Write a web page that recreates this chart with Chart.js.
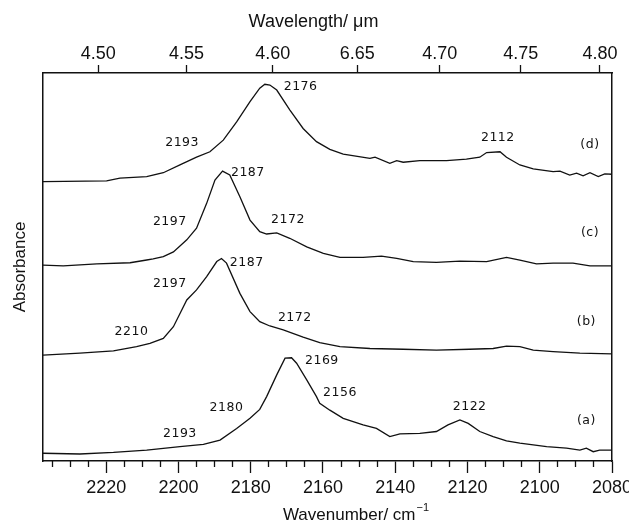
<!DOCTYPE html>
<html>
<head>
<meta charset="utf-8">
<script src="https://cdn.jsdelivr.net/npm/chart.js@4.4.0/dist/chart.umd.min.js"></script>
<style>
  body { margin: 0; background: #fff; }
</style>
</head>
<body>
<canvas id="spectra" width="629" height="523"></canvas>
<script>
// IR spectra, wavenumber (cm-1) vs absorbance (arb. units, traces offset)
const wnA = [2237.5, 2227.3, 2218.0, 2208.8, 2199.6, 2193.1, 2188.5, 2183.9, 2180.2, 2177.5, 2175.6, 2172.8, 2170.5, 2168.7, 2167.3, 2164.5, 2161.8, 2160.9, 2158.1, 2154.4, 2148.9, 2145.2, 2141.5, 2138.7, 2133.2, 2128.6, 2125.4, 2122.1, 2119.8, 2116.6, 2112.9, 2109.2, 2105.5, 2098.1, 2092.6, 2088.9, 2087.1, 2085.2, 2083.4, 2080];
const absA = [2.0, 1.8, 2.2, 2.8, 3.7, 4.3, 5.4, 8.4, 11.0, 13.3, 16.6, 22.2, 26.5, 26.6, 25.2, 20.9, 16.6, 14.9, 13.1, 11.0, 9.3, 8.4, 6.3, 7.0, 7.1, 7.6, 9.3, 10.6, 9.7, 7.6, 6.3, 5.2, 4.6, 3.7, 3.3, 2.8, 3.3, 2.4, 2.8, 2.8];

const wnB = [2237.5, 2227.3, 2218.0, 2211.6, 2207.9, 2204.2, 2201.4, 2197.7, 2195.0, 2192.2, 2189.4, 2188.1, 2186.7, 2183.0, 2180.2, 2177.5, 2174.7, 2171.0, 2165.5, 2160.9, 2155.3, 2147.0, 2137.8, 2128.6, 2119.4, 2112.9, 2109.2, 2105.5, 2101.8, 2096.3, 2088.9, 2080];
const absB = [27.3, 27.8, 28.4, 29.5, 30.3, 31.6, 34.6, 41.5, 44.1, 47.5, 51.4, 52.2, 51.0, 43.2, 38.5, 35.9, 34.8, 33.8, 31.9, 30.5, 29.5, 29.0, 28.8, 28.6, 28.8, 29.0, 29.6, 29.5, 28.6, 28.2, 27.8, 27.6];

const wnC = [2237.5, 2231.9, 2222.6, 2213.4, 2208.8, 2207.0, 2204.2, 2201.4, 2197.7, 2195.0, 2192.2, 2189.9, 2187.8, 2185.8, 2183.0, 2180.2, 2177.5, 2175.6, 2172.8, 2169.2, 2164.5, 2159.9, 2155.3, 2148.9, 2143.8, 2139.6, 2135.0, 2128.6, 2122.1, 2114.7, 2109.2, 2105.5, 2100.9, 2096.3, 2090.8, 2086.1, 2080];
const absC = [50.5, 50.3, 50.8, 51.1, 51.8, 52.1, 52.7, 53.9, 57.0, 60.0, 66.4, 72.4, 74.7, 73.7, 68.1, 62.1, 59.1, 58.5, 58.8, 57.4, 55.2, 53.5, 52.5, 52.5, 52.8, 52.2, 51.4, 51.2, 51.5, 51.4, 52.5, 51.8, 50.8, 51.0, 51.0, 50.3, 50.3];

const wnD = [2237.5, 2219.9, 2216.2, 2208.8, 2204.2, 2199.6, 2195.0, 2191.3, 2187.6, 2183.9, 2180.2, 2177.5, 2176.1, 2174.7, 2172.8, 2169.2, 2165.5, 2161.8, 2158.1, 2154.4, 2147.0, 2145.6, 2141.5, 2139.6, 2137.8, 2133.2, 2125.8, 2120.3, 2116.6, 2114.7, 2111.0, 2109.2, 2105.5, 2101.8, 2096.3, 2094.4, 2091.7, 2089.8, 2088.0, 2086.1, 2083.8, 2082.0, 2080];
const absD = [72.0, 72.2, 72.9, 73.3, 74.3, 76.3, 78.3, 79.7, 82.7, 87.4, 92.6, 96.1, 97.1, 96.9, 95.6, 90.5, 85.7, 82.3, 80.3, 79.1, 78.0, 78.3, 76.7, 77.4, 77.0, 77.4, 77.4, 77.8, 78.3, 79.5, 79.7, 78.3, 76.3, 75.3, 74.6, 74.7, 73.7, 74.2, 73.5, 74.3, 73.3, 74.0, 73.9];

// peak labels written on the plot
const annText = ['2176', '2193', '2112', '(d)', '2187', '2197', '2172', '(c)', '2187', '2197', '2210', '2172', '(b)', '2169', '2156', '2180', '2193', '2122', '(a)'];
const annWn = [2166.2, 2199.0, 2111.6, 2086.1, 2180.8, 2202.4, 2169.7, 2086.1, 2181.1, 2202.4, 2213.0, 2167.8, 2087.1, 2160.3, 2155.3, 2186.7, 2199.6, 2119.4, 2087.1];
const annAbs = [96.4, 82.0, 83.2, 81.4, 74.2, 61.6, 62.1, 58.8, 51.2, 45.6, 33.3, 36.8, 35.9, 25.8, 17.6, 13.6, 6.9, 14.0, 10.4];

// axes
const wnMajor = [2220, 2200, 2180, 2160, 2140, 2120, 2100, 2080];
const wnMinor = [2235, 2230, 2225, 2215, 2210, 2205, 2195, 2190, 2185, 2175, 2170, 2165, 2155, 2150, 2145, 2135, 2130, 2125, 2115, 2110, 2105, 2095, 2090, 2085];
const wavelengths = [4.50, 4.55, 4.60, 4.65, 4.70, 4.75, 4.80];
const wavelengthLabels = ['4.50', '4.55', '4.60', '6.65', '4.70', '4.75', '4.80'];

const ink = '#111';
const sans = '"Liberation Sans", Arial, sans-serif';
const tickFont = { family: sans, size: 18 };
const wnMin = 2080, wnMax = 2237.5;

const traces = [[wnA, absA], [wnB, absB], [wnC, absC], [wnD, absD]];
const datasets = traces.map(([wn, ab]) => ({
  data: wn.map((w, i) => ({ x: w, y: ab[i] })),
  borderColor: ink,
  borderWidth: 1.3,
  pointRadius: 0,
  tension: 0,
  fill: false
}));

// no extra side padding for edge labels, the frame must reach the canvas edge
function noSidePad(s, h) {
  s.height = h;
  s.paddingLeft = 0;
  s.paddingRight = 0;
}

// titles and peak labels
const textPlugin = {
  id: 'texts',
  afterDraw(chart) {
    const c = chart.ctx;
    const area = chart.chartArea;
    const mid = (area.left + area.right) / 2;
    c.save();
    c.fillStyle = ink;
    c.textBaseline = 'middle';
    c.font = '18px ' + sans;
    c.textAlign = 'center';
    c.fillText('Wavelength/ \u03bcm', mid - 14, 22);

    const main = 'Wavenumber/ cm';
    c.font = '17px ' + sans;
    const mainW = c.measureText(main).width;
    c.font = '11px ' + sans;
    const supW = c.measureText('\u22121').width;
    const x0 = mid + 28 - (mainW + supW) / 2;
    c.textAlign = 'left';
    c.fillText('\u22121', x0 + mainW + 1, 508);
    c.font = '17px ' + sans;
    c.fillText(main, x0, 515);

    const xs = chart.scales.x, ys = chart.scales.y;
    c.font = '12.5px "DejaVu Sans", sans-serif';
    c.textAlign = 'center';
    c.letterSpacing = '0.5px';
    annText.forEach((t, i) => {
      c.fillText(t, xs.getPixelForValue(annWn[i]), ys.getPixelForValue(annAbs[i]));
    });
    c.restore();
  }
};

new Chart(document.getElementById('spectra'), {
  type: 'line',
  data: { datasets },
  options: {
    responsive: false,
    animation: false,
    layout: { padding: 0 },
    plugins: { legend: { display: false }, tooltip: { enabled: false } },
    scales: {
      xMinor: {
        type: 'linear', position: 'bottom', weight: 0,
        min: wnMin, max: wnMax, reverse: true,
        afterBuildTicks: s => { s.ticks = wnMinor.map(v => ({ value: v })); },
        afterFit: s => noSidePad(s, 0),
        ticks: { display: false, autoSkip: false },
        grid: { drawOnChartArea: false, tickLength: 6, tickWidth: 1.3, tickColor: ink },
        border: { display: false }
      },
      x: {
        type: 'linear', position: 'bottom', weight: 1,
        min: wnMin, max: wnMax, reverse: true,
        afterBuildTicks: s => { s.ticks = wnMajor.map(v => ({ value: v })); },
        afterFit: s => noSidePad(s, 62),
        ticks: { autoSkip: false, maxRotation: 0, padding: 4, color: ink, font: tickFont, callback: v => String(v) },
        grid: { drawOnChartArea: false, tickLength: 12, tickWidth: 1.3, tickColor: ink },
        border: { display: true, color: ink, width: 1.5 }
      },
      xTop: {
        type: 'linear', position: 'top',
        min: wnMin, max: wnMax, reverse: true,
        afterBuildTicks: s => { s.ticks = wavelengths.map(l => ({ value: 10000 / l })); },
        afterFit: s => noSidePad(s, 73),
        ticks: { autoSkip: false, maxRotation: 0, padding: 0, color: ink, font: tickFont, callback: (v, i) => wavelengthLabels[i] },
        grid: { drawOnChartArea: false, tickLength: 8, tickWidth: 1.3, tickColor: ink },
        border: { display: true, color: ink, width: 1.5 }
      },
      y: {
        type: 'linear', position: 'left', min: 0, max: 100,
        afterFit: s => { s.width = 43; },
        ticks: { display: false },
        grid: { drawOnChartArea: false, drawTicks: false },
        border: { display: true, color: ink, width: 1.5 },
        title: { display: true, text: 'Absorbance', color: ink, font: { family: sans, size: 17 }, padding: { top: 10, bottom: 0 } }
      },
      yRight: {
        type: 'linear', position: 'right', display: true, min: 0, max: 100,
        afterFit: s => { s.width = 17; },
        ticks: { display: false },
        grid: { drawOnChartArea: false, drawTicks: false },
        border: { display: true, color: ink, width: 1.5 }
      }
    }
  },
  plugins: [textPlugin]
});
</script>
</body>
</html>
